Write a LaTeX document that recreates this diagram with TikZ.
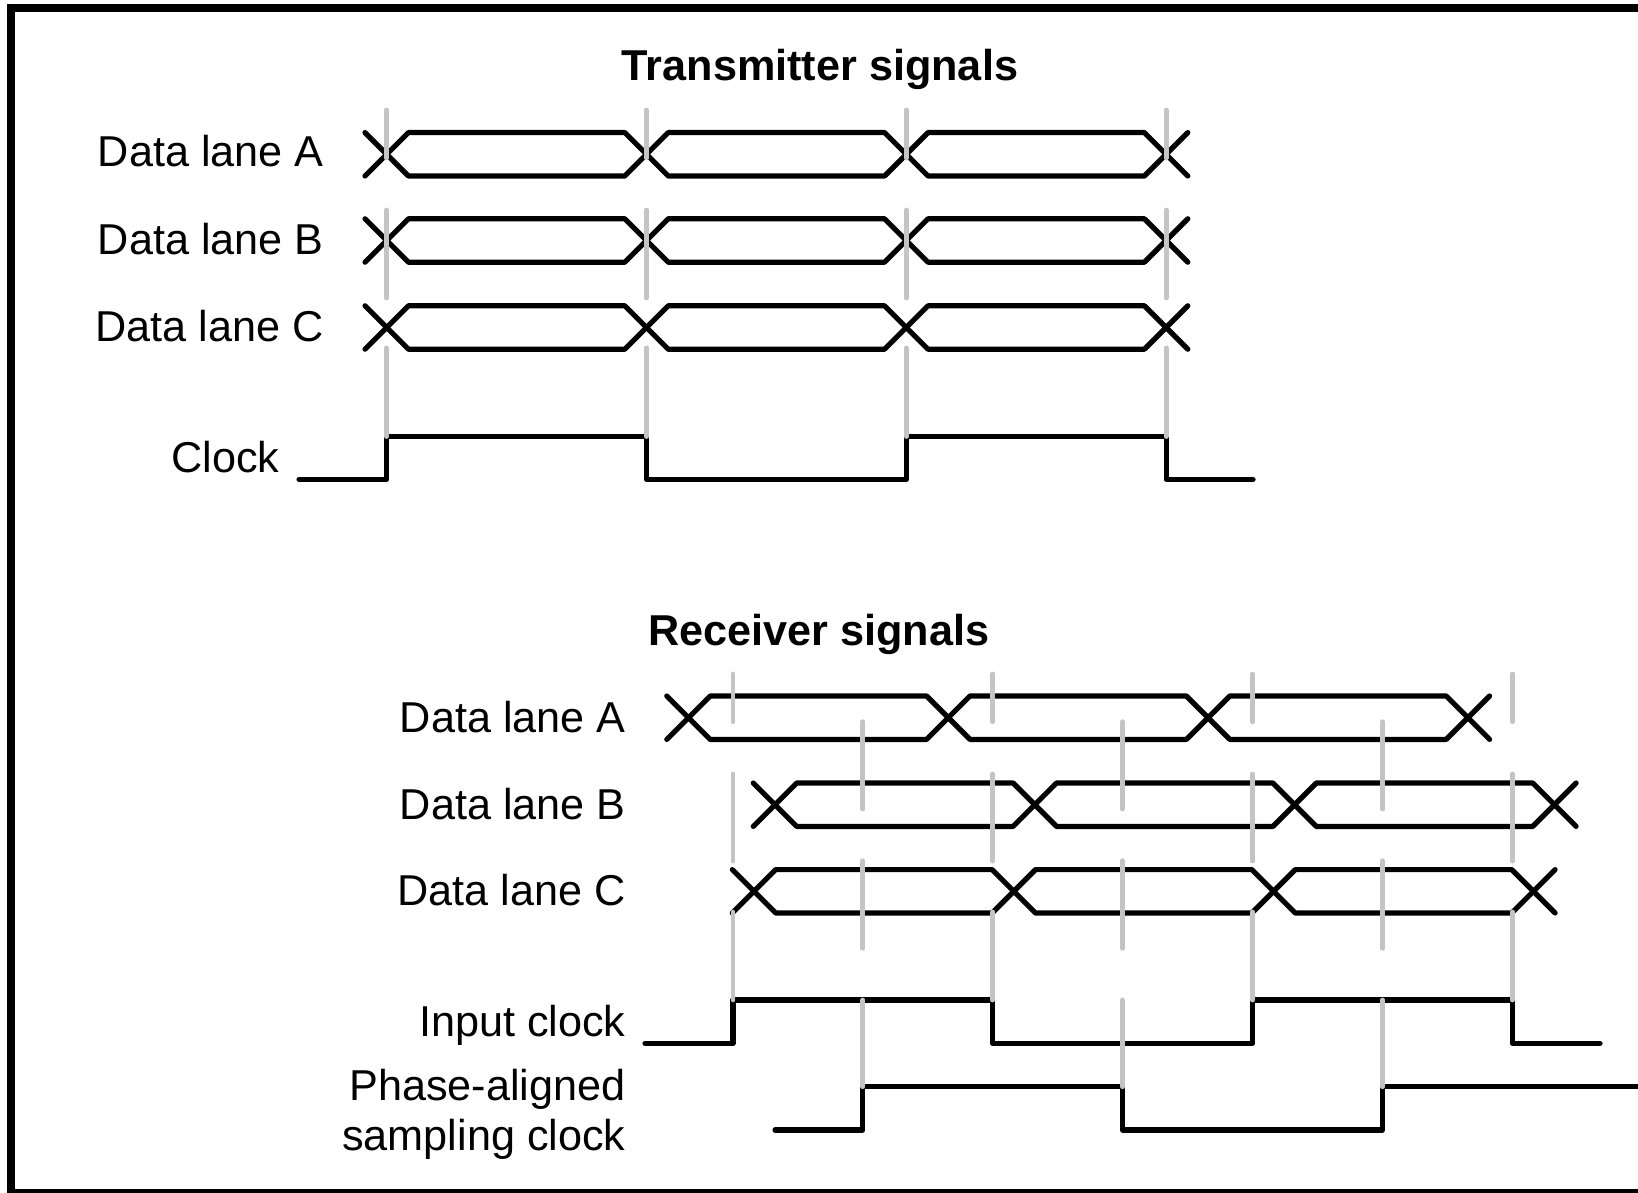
\documentclass[tikz,border=0pt]{standalone}
\usepackage{fontspec}
\setmainfont{Liberation Sans}
\definecolor{gl}{RGB}{196,196,196}
\def\hh{21.7}
\def\PP{259.8}
% data lane: #1 = y centre, #2 = x of first crossing (4 crossings, period \PP)
\newcommand{\datalaneX}[2]{%
  \draw[sig] (#2-\hh,#1-\hh) -- (#2+\hh,#1+\hh) -- (#2+\PP-\hh,#1+\hh) -- (#2+\PP+\hh,#1-\hh)
     -- (#2+2*\PP-\hh,#1-\hh) -- (#2+2*\PP+\hh,#1+\hh) -- (#2+3*\PP-\hh,#1+\hh) -- (#2+3*\PP+\hh,#1-\hh);
  \draw[sig] (#2-\hh,#1+\hh) -- (#2+\hh,#1-\hh) -- (#2+\PP-\hh,#1-\hh) -- (#2+\PP+\hh,#1+\hh)
     -- (#2+2*\PP-\hh,#1+\hh) -- (#2+2*\PP+\hh,#1-\hh) -- (#2+3*\PP-\hh,#1-\hh) -- (#2+3*\PP+\hh,#1+\hh);
}
\begin{document}
\begin{tikzpicture}[x=0.5pt,y=-0.5pt,
  sig/.style={line width=2.6pt, line cap=round, line join=round, draw=black},
  gry/.style={line width=2.4pt, line cap=round, draw=gl},
  lbl/.style={anchor=base east, inner sep=0pt, font=\fontsize{21.6}{25}\selectfont},
  ttl/.style={anchor=base, inner sep=0pt, font=\fontsize{21.6}{26}\selectfont\bfseries}]
\useasboundingbox (0,0) rectangle (1638,1193);
\clip (0,0) rectangle (1638,1193);
\fill[white] (0,0) rectangle (1638,1193);
% frame
\draw[line width=4pt] (11,8.3) rectangle (1700,1193.3);

% ---------------- Transmitter ----------------
\node[ttl] (ttitle) at (820,81) {Transmitter signals};
\node[lbl] (tA) at (324,166.7) {Data lane A};
\node[lbl] (tB) at (324,254) {Data lane B};
\node[lbl] (tC) at (324,341.5) {Data lane C};
\node[lbl] (tclk) at (280,472) {Clock};

\datalaneX{154.3}{386.7}
\datalaneX{240.5}{386.7}
\datalaneX{327.5}{386.7}
\draw[sig] (299,479.3) -- (386.7,479.3) -- (386.7,436.5) -- (646.5,436.5) -- (646.5,479.3)
  -- (906.3,479.3) -- (906.3,436.5) -- (1166.1,436.5) -- (1166.1,479.3) -- (1253,479.3);

\foreach \k in {0,...,3} {
  \pgfmathsetmacro\xx{386.7+\k*\PP}
  \draw[gry] (\xx,110) -- (\xx,158);
  \draw[gry] (\xx,210) -- (\xx,298);
  \draw[gry] (\xx,348) -- (\xx,436.5);
}

% ---------------- Receiver ----------------
\node[ttl] (rtitle) at (819,645.5) {Receiver signals};
\node[lbl] (rA) at (626,732) {Data lane A};
\node[lbl] (rB) at (626,819) {Data lane B};
\node[lbl] (rC) at (626,905.5) {Data lane C};
\node[lbl] (rin) at (626,1036) {Input clock};
\node[lbl] (rph) at (626,1100.7) {Phase-aligned};
\node[lbl] (rsm) at (626,1150) {sampling clock};

\datalaneX{717.7}{688.5}
\datalaneX{804.7}{775}
\datalaneX{891.3}{754}
\draw[sig] (645,1043.3) -- (733,1043.3) -- (733,1000) -- (992.8,1000) -- (992.8,1043.3)
  -- (1252.6,1043.3) -- (1252.6,1000) -- (1512.4,1000) -- (1512.4,1043.3) -- (1600,1043.3);
\draw[sig] (775,1130) -- (862.8,1130) -- (862.8,1086.7) -- (1122.6,1086.7) -- (1122.6,1130)
  -- (1382.4,1130) -- (1382.4,1086.7) -- (1660,1086.7);

\foreach \k in {0,...,3} {
  \pgfmathsetmacro\xx{733+\k*\PP}
  \draw[gry] (\xx,674) -- (\xx,721.7);
  \draw[gry] (\xx,774) -- (\xx,861);
  \draw[gry] (\xx,912) -- (\xx,1000);
}
\foreach \k in {0,...,2} {
  \pgfmathsetmacro\xx{862.8+\k*\PP}
  \draw[gry] (\xx,721.7) -- (\xx,809);
  \draw[gry] (\xx,860.7) -- (\xx,948.3);
  \draw[gry] (\xx,1000) -- (\xx,1086.7);
}
\end{tikzpicture}
\end{document}
